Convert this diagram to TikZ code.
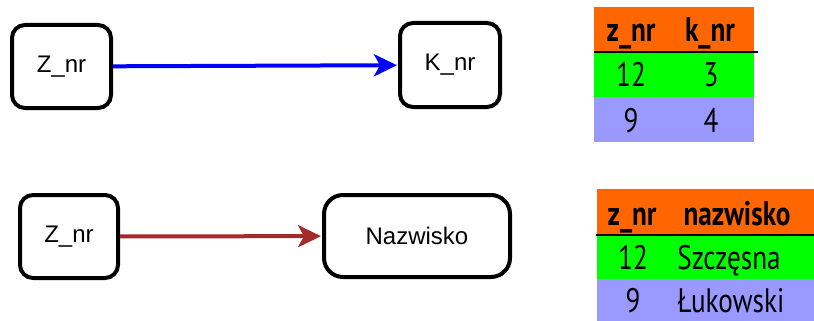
\documentclass[tikz,border=0pt]{standalone}
\usepackage{fontspec}
\setmainfont{Liberation Sans}
\newfontfamily\tabfont[FakeStretch=0.8]{PT Sans}
\usetikzlibrary{arrows.meta}
\definecolor{hdrorange}{HTML}{FF6600}
\definecolor{rowgreen}{HTML}{00FF00}
\definecolor{rowlav}{HTML}{9999FF}
\definecolor{linkred}{HTML}{A52A2A}
\tikzset{
  entity/.style={draw, line width=4pt, rounded corners=13pt, inner sep=0pt,
    font=\fontsize{24}{28}\selectfont},
  link/.style={line width=4pt, shorten >=1pt,
    -{Stealth[length=23pt, width=22pt, inset=6pt]}},
  hdr/.style={anchor=base, inner sep=0pt, font=\tabfont\bfseries\fontsize{34}{38}\selectfont},
  cell/.style={anchor=base, inner sep=0pt, font=\tabfont\fontsize{34}{38}\selectfont},
}
\begin{document}
\begin{tikzpicture}[x=1pt, y=-1pt]
\useasboundingbox (0,0) rectangle (814,321);

% dependency diagrams
\node[entity, minimum width=99pt, minimum height=83pt] (z1) at (61.5,66.5) {Z\_nr};
\node[entity, minimum width=100pt, minimum height=84pt] (k1) at (450,65) {K\_nr};
\draw[link, blue] (z1) -- (k1);

\node[entity, minimum width=98pt, minimum height=83pt] (z2) at (69,236.5) {Z\_nr};
\node[entity, rounded corners=19pt, minimum width=186pt, minimum height=82pt] (naz) at (417,236) {Nazwisko};
\draw[link, linkred] (z2) -- (naz);

% table: z_nr -> k_nr
\fill[hdrorange] (594,7) rectangle (754,52);
\fill[rowgreen] (594,52) rectangle (754,97);
\fill[rowlav] (594,97) rectangle (754,142);
\draw[line width=2pt] (594,52) -- (758,52);
\node[hdr] (t1h1) at (631,42) {z\_nr};
\node[hdr] (t1h2) at (710,42) {k\_nr};
\node[cell] (t1a1) at (631,87) {12};
\node[cell] (t1a2) at (711,87) {3};
\node[cell] (t1b1) at (631,132.5) {9};
\node[cell] (t1b2) at (711,132.5) {4};

% table: z_nr -> nazwisko
\fill[hdrorange] (597,189) rectangle (814,235);
\fill[rowgreen] (597,235) rectangle (814,279);
\fill[rowlav] (597,279) rectangle (814,321);
\draw[line width=2pt] (596,235) -- (814,235);
\node[hdr] (t2h1) at (632,225) {z\_nr};
\node[hdr] (t2h2) at (737,225) {nazwisko};
\node[cell] (t2a1) at (633,269) {12};
\node[cell] (t2a2) at (729,269) {Szczęsna};
\node[cell] (t2b1) at (633,312) {9};
\node[cell] (t2b2) at (731,312) {Łukowski};
\end{tikzpicture}
\end{document}
